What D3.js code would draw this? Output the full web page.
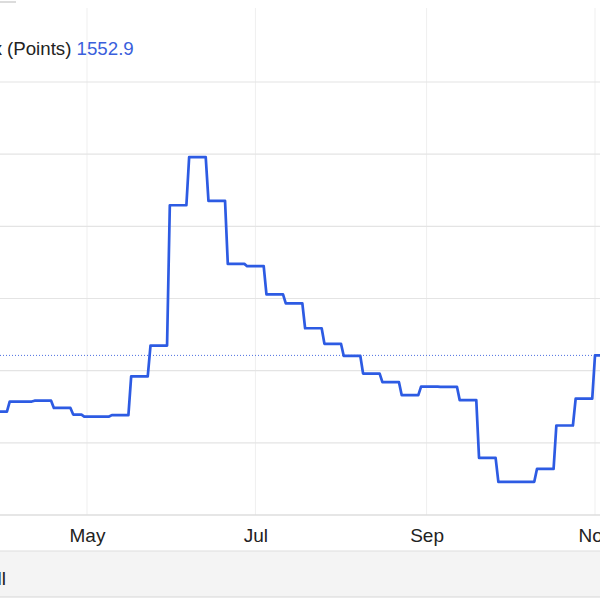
<!DOCTYPE html>
<html>
<head>
<meta charset="utf-8">
<script src="https://cdn.jsdelivr.net/npm/d3@7"></script>
<style>
  body { margin: 0; background: #fff; }
  svg { display: block; font-family: "Liberation Sans", Arial, Helvetica, sans-serif; }
</style>
</head>
<body>
<div id="chart"></div>
<script>
// weekly index readings (date of release, points)
const dates = [
  "2025-03-28", "2025-04-02", "2025-04-11", "2025-04-18", "2025-04-25",
  "2025-04-29", "2025-05-09", "2025-05-16", "2025-05-23", "2025-05-30",
  "2025-06-06", "2025-06-13", "2025-06-20", "2025-06-27", "2025-07-04",
  "2025-07-11", "2025-07-18", "2025-07-25", "2025-08-01", "2025-08-08",
  "2025-08-15", "2025-08-22", "2025-08-29", "2025-09-05", "2025-09-12",
  "2025-09-19", "2025-09-26", "2025-10-10", "2025-10-17", "2025-10-24",
  "2025-10-31"
];
const values = [
  1358, 1393, 1396, 1371, 1348,
  1341, 1346, 1480, 1587, 2073,
  2240, 2088, 1870, 1862, 1764,
  1733, 1647, 1593, 1551, 1490,
  1460, 1415, 1445, 1444, 1398,
  1198, 1115, 1160, 1310, 1403,
  1552.9
];
const monthTicks = ["2025-05-01", "2025-07-01", "2025-09-01", "2025-11-01"];
const gridValues = [1250, 1500, 1750, 2000, 2250, 2500];
const lastValue = 1552.9;
const titleText = "Containerized Freight Index";
const unitText = "(Points) ";

const width = 600;
const height = 600;
const parse = d3.timeParse("%Y-%m-%d");

const svg = d3
  .select("#chart")
  .append("svg")
  .attr("width", width)
  .attr("height", height);

const x = d3
  .scaleTime()
  .domain([parse("2025-05-01"), parse("2025-11-01")])
  .range([87, 595]);

const y = d3.scaleLinear().domain([1000, 2500]).range([515, 82]);

// top-left button edge
svg.append("line")
  .attr("x1", 0).attr("x2", 16)
  .attr("y1", 2).attr("y2", 2)
  .attr("stroke", "#dcdcdc")
  .attr("stroke-width", 2);

//vertical grid
svg.append("g")
  .selectAll("line")
  .data(monthTicks.map(parse))
  .enter()
  .append("line")
  .attr("x1", (d) => x(d))
  .attr("x2", (d) => x(d))
  .attr("y1", 8)
  .attr("y2", 515)
  .attr("stroke", "#efefef")
  .attr("stroke-width", 1);

//horizontal grid
svg.append("g")
  .selectAll("line")
  .data(gridValues)
  .enter()
  .append("line")
  .attr("x1", 0)
  .attr("x2", width)
  .attr("y1", (d) => y(d))
  .attr("y2", (d) => y(d))
  .attr("stroke", "#e4e4e4")
  .attr("stroke-width", 1.2);

// x axis
const xAxis = svg
  .append("g")
  .attr("transform", `translate(0,${y(1000)})`)
  .call(
    d3.axisBottom(x)
      .tickValues(monthTicks.map(parse))
      .tickSize(0)
      .tickPadding(14)
      .tickFormat(d3.timeFormat("%b"))
  );
xAxis.select(".domain")
  .attr("d", `M0,0H${width}`)
  .attr("stroke", "#dedede")
  .attr("stroke-width", 1.5);
xAxis.selectAll("text")
  .attr("fill", "#222")
  .style("font-size", "19px")
  .style("font-family", '"Liberation Sans", Arial, Helvetica, sans-serif');

// last value marker
svg.append("line")
  .attr("x1", 0)
  .attr("x2", width)
  .attr("y1", y(lastValue))
  .attr("y2", y(lastValue))
  .attr("stroke", "#4d6fe0")
  .attr("stroke-width", 1)
  .attr("stroke-dasharray", "1,2");

// step line: value holds for the week, moves to the new reading over one day
const points = [];
dates.forEach((ds, i) => {
  const d = parse(ds);
  if (i === 0) points.push([d3.timeDay.offset(d, -7), values[0]]);
  else points.push([d, values[i - 1]]);
  points.push([d3.timeDay.offset(d, 1), values[i]]);
});
points.push([d3.timeDay.offset(parse(dates[dates.length - 1]), 7), values[values.length - 1]]);

svg.append("clipPath")
  .attr("id", "plot-clip")
  .append("rect")
  .attr("x", 0).attr("y", 0)
  .attr("width", width).attr("height", 515);

svg.append("path")
  .datum(points)
  .attr("clip-path", "url(#plot-clip)")
  .attr("fill", "none")
  .attr("stroke", "#2d5be3")
  .attr("stroke-width", 2.7)
  .attr("stroke-linejoin", "round")
  .attr("d", d3.line()
    .x((d) => x(d[0]))
    .y((d) => y(d[1])));

// title
const title = svg.append("text")
  .attr("x", 7)
  .attr("y", 55)
  .style("font-size", "18.7px");
title.append("tspan").attr("fill", "#222").text(unitText);
title.append("tspan").attr("fill", "#3a5fdc").text(lastValue.toFixed(1));

svg.append("text")
  .attr("x", 2)
  .attr("y", 55)
  .attr("text-anchor", "end")
  .attr("fill", "#222")
  .style("font-size", "18.7px")
  .text(titleText);

// range selector band
svg.append("rect")
  .attr("x", 0).attr("y", 551)
  .attr("width", width).attr("height", 46)
  .attr("fill", "#f4f4f4");
svg.append("line")
  .attr("x1", 0).attr("x2", width)
  .attr("y1", 551).attr("y2", 551)
  .attr("stroke", "#dddddd");
svg.append("line")
  .attr("x1", 0).attr("x2", width)
  .attr("y1", 597).attr("y2", 597)
  .attr("stroke", "#d6d6d6");
svg.append("text")
  .attr("x", 6)
  .attr("y", 585)
  .attr("text-anchor", "end")
  .attr("fill", "#222")
  .style("font-size", "19px")
  .text("All");
</script>
</body>
</html>
